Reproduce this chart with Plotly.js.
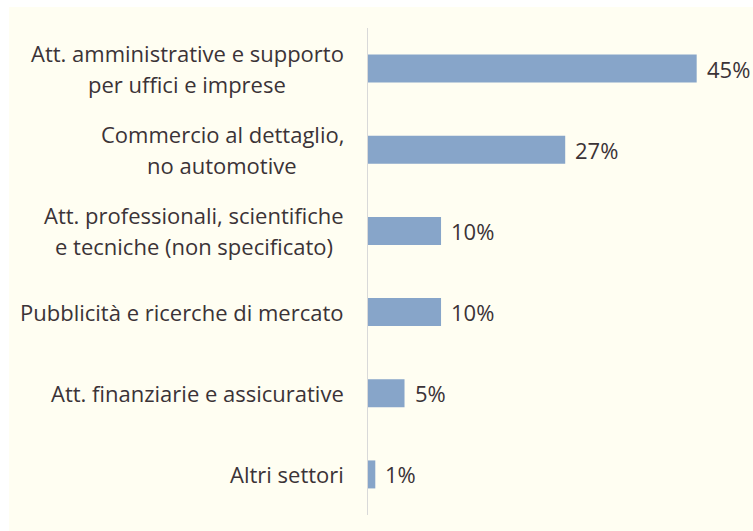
<!DOCTYPE html>
<html>
<head>
<meta charset="utf-8">
<script src="https://cdn.plot.ly/plotly-3.0.1.min.js"></script>
<style>
html,body{margin:0;padding:0;background:#ffffff;}
#chart{position:absolute;left:9px;top:7px;width:744px;height:524px;}
</style>
</head>
<body>
<div id="chart"></div>
<script>
var categories = [
  "Att. amministrative e supporto<br>per uffici e imprese",
  "Commercio al dettaglio,<br>no automotive",
  "Att. professionali, scientifiche<br>e tecniche (non specificato)",
  "Pubblicità e ricerche di mercato",
  "Att. finanziarie e assicurative",
  "Altri settori"
];
var values = [45, 27, 10, 10, 5, 1];
var valueLabels = ["45%", "27%", "10%", "10%", "5%", "1%"];

var FONT = "'Open Sans', sans-serif";
var TEXTCOL = "#3b3337";
var FS = 22;
var LINE_PITCH = 31;

var annotations = [];
categories.forEach(function(cat, i){
  var lines = cat.split("<br>");
  var n = lines.length;
  lines.forEach(function(line, k){
    annotations.push({
      xref: "paper", yref: "y", x: 0, y: cat,
      xanchor: "right", yanchor: "middle", align: "center",
      xshift: -22, yshift: ((n - 1) / 2 - k) * LINE_PITCH,
      showarrow: false,
      text: line,
      font: {family: FONT, size: FS, color: TEXTCOL},
      _block: i
    });
  });
  annotations.push({
    xref: "x", yref: "y", x: values[i], y: cat,
    xanchor: "left", yanchor: "middle",
    xshift: 8, showarrow: false,
    text: valueLabels[i],
    font: {family: FONT, size: FS, color: TEXTCOL}
  });
});

var canvas = document.createElement("canvas");
var ctx = canvas.getContext("2d");

function build(){
  ctx.font = FS + "px 'Open Sans'";
  var widths = {};
  annotations.forEach(function(a){
    if (a._block !== undefined) {
      var w = ctx.measureText(a.text).width;
      a._w = w;
      widths[a._block] = Math.max(widths[a._block] || 0, w);
    }
  });
  annotations.forEach(function(a){
    if (a._block !== undefined) {
      a.xshift = -22 - (widths[a._block] - a._w) / 2;
      delete a._block; delete a._w;
    }
  });

  var trace = {
    type: "bar",
    orientation: "h",
    x: values,
    y: categories,
    marker: {color: "#87a5c9"},
    hoverinfo: "none"
  };

  var layout = {
    width: 744, height: 524,
    margin: {l: 359, r: 3, t: 21, b: 16},
    paper_bgcolor: "#fffef2",
    plot_bgcolor: "#fffef2",
    showlegend: false,
    bargap: 0.655,
    xaxis: {range: [0, 52.3], visible: false, fixedrange: true},
    yaxis: {
      type: "category",
      autorange: "reversed",
      showticklabels: false,
      showgrid: false,
      zeroline: false,
      showline: true,
      linecolor: "#d9d9d9",
      linewidth: 1.5,
      ticks: "",
      fixedrange: true
    },
    annotations: annotations
  };
  Plotly.newPlot("chart", [trace], layout, {displayModeBar: false, staticPlot: true});
}

document.fonts.load(FS + "px 'Open Sans'").then(build, build);
</script>
</body>
</html>
